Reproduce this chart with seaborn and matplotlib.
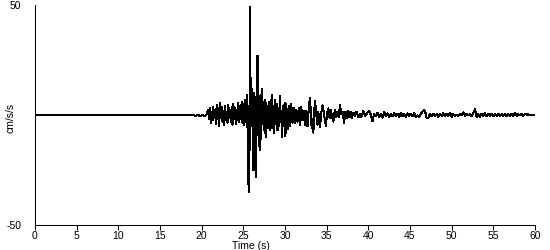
import matplotlib
matplotlib.use("Agg")
import matplotlib.pyplot as plt
import seaborn as sns
import pandas as pd

# Time (s) of the turning points of the trace
time_s = [
    0.0, 19.0, 19.3, 19.5, 19.9, 20.1, 20.4, 20.6,
    20.8, 20.9, 21.0, 21.1, 21.2, 21.3, 21.4, 21.5, 21.6, 21.7, 21.8, 21.9,
    22.0, 22.1, 22.2, 22.3, 22.4, 22.5, 22.6, 22.7, 22.8, 22.9,
    23.0, 23.1, 23.2, 23.3, 23.4, 23.5, 23.6, 23.7, 23.8, 23.9,
    24.0, 24.1, 24.2, 24.3, 24.4, 24.5, 24.6, 24.7, 24.8, 24.9,
    25.0, 25.1, 25.2, 25.3, 25.4, 25.5,
    25.6, 25.65, 25.72, 25.8, 25.86, 25.92, 25.98, 26.05, 26.12, 26.15,
    26.22, 26.3, 26.38, 26.45, 26.52, 26.6, 26.7, 26.78, 26.85, 26.95,
    27.05, 27.15, 27.25, 27.35, 27.45, 27.55, 27.65, 27.75, 27.85, 27.95,
    28.05, 28.15, 28.25, 28.3, 28.4, 28.5, 28.6, 28.7, 28.8, 28.9,
    29.0, 29.1, 29.2, 29.3, 29.4, 29.5, 29.55, 29.65, 29.75, 29.85,
    29.95, 30.05, 30.15, 30.3, 30.45, 30.6, 30.75, 30.9, 31.05, 31.2,
    31.35, 31.5, 31.65, 31.8, 31.95, 32.1, 32.25, 32.4, 32.55, 32.7,
    32.85, 33.0, 33.1, 33.2, 33.3, 33.4, 33.5, 33.6, 33.75, 33.9,
    34.0, 34.2, 34.35, 34.5, 34.7, 34.9, 35.05, 35.2, 35.35, 35.5,
    35.65, 35.8, 36.0, 36.15, 36.3, 36.45, 36.6, 36.75, 36.9, 37.1,
    37.25, 37.4, 37.55, 37.7, 37.85, 38.0, 38.2, 38.4, 38.6, 38.8,
    39.0, 39.15, 39.4, 39.6, 39.8, 40.1, 40.3, 40.5, 40.7, 40.9,
    41.1, 41.3, 41.5, 41.7, 41.9, 42.1, 42.3, 42.5, 42.7, 42.9,
    43.1, 43.3, 43.5, 43.7, 43.9, 44.1, 44.3, 44.5, 44.7, 44.9,
    45.1, 45.3, 45.5, 45.7, 45.9, 46.1, 46.3, 46.5, 46.7, 46.9,
    47.0, 47.2, 47.4, 47.6, 47.8, 48.0, 48.2, 48.4, 48.6, 48.8,
    49.0, 49.2, 49.4, 49.6, 49.8, 50.0, 50.2, 50.4, 50.6, 50.8,
    51.0, 51.2, 51.4, 51.6, 51.8, 52.0, 52.2, 52.4, 52.6, 52.8,
    53.0, 53.2, 53.4, 53.6, 53.8, 54.0, 54.2, 54.4, 54.6, 54.8,
    55.0, 55.2, 55.4, 55.6, 55.8, 56.0, 56.2, 56.4, 56.6, 56.8,
    57.0, 57.2, 57.4, 57.6, 57.8, 58.0, 58.2, 58.4, 58.6, 58.8,
    59.0, 59.2, 59.4, 59.6, 59.8, 60.0,
]

# Acceleration (cm/s/s) at those times
accel = [
    0.0, 0.0, -0.4, 0.0, -0.5, 0.0, -0.6, 0.3,
    2.5, -2.0, 3.0, -3.5, 1.5, -2.5, 3.5, -1.0, 2.0, -4.0, 4.5, -2.0,
    3.0, -5.0, 5.5, -1.5, 3.5, -3.0, 2.0, -4.5, 4.0, -2.5,
    1.5, -3.5, 4.5, -1.5, 2.5, -3.0, 3.5, -4.5, 5.0, -2.0,
    3.0, -4.0, 2.5, -2.5, 5.5, -3.0, 4.0, -2.0, 6.0, -3.5,
    5.0, -4.5, 7.0, -3.0, 9.0, -5.0,
    -31.5, 4.0, -35.0, 49.0, -2.0, 17.0, -5.0, 12.0, -8.0, 6.0,
    -25.0, 10.0, -4.0, 8.0, -28.0, 5.0, 27.0, -9.0, 6.0, -16.0,
    9.0, -11.0, 12.0, -4.0, 6.0, -8.0, 7.0, -10.0, 4.0, -5.0,
    6.0, -7.0, 5.0, -3.0, 9.0, -6.0, 4.0, -8.0, 7.0, -4.0,
    5.0, -7.0, 3.0, -5.0, 8.5, -3.0, 2.0, -10.0, 4.0, -5.0,
    5.5, -9.5, 5.0, -6.5, 4.0, -5.0, 5.0, -3.5, 3.0, -3.8,
    2.5, -3.0, 3.0, -4.5, 3.5, -2.5, 2.0, -4.5, 2.0, -5.0,
    3.0, 7.9, 1.0, -6.0, -2.0, -8.0, 1.0, 6.5, 0.5, -4.5,
    1.5, -5.7, 1.0, 4.4, 0.0, -5.0, 1.0, 3.0, -1.5, 2.5,
    -1.0, -3.0, 2.5, -1.0, 1.5, -1.0, 4.4, 0.5, 1.5, -3.5,
    1.5, -1.5, 2.0, -1.0, 1.5, -1.5, 1.0, -0.5, 1.5, -1.0,
    0.5, -1.0, 2.0, -0.5, 0.5, 2.0, 0.0, -2.7, 0.5, -0.5,
    1.0, -1.0, 0.5, -1.2, 1.2, -0.5, 0.8, -0.8, 0.5, -0.5,
    0.8, -0.6, 0.5, -0.8, 1.0, -0.5, 0.5, -1.0, 0.8, -0.5,
    0.6, -0.4, 0.8, -0.8, -0.2, -1.0, 0.5, 1.5, 2.3, 0.5,
    -1.5, -1.2, 0.5, -0.6, 0.6, -0.5, 0.4, -0.8, 0.6, -0.4,
    0.8, -0.6, 0.5, -0.5, 1.0, -0.8, 0.3, -0.4, 0.2, -0.3,
    0.4, -0.2, 1.2, -0.4, 0.6, -0.2, 0.4, -0.6, 0.8, 2.7,
    -1.0, 0.5, -0.8, 0.6, -0.5, 0.8, -0.6, 0.6, -0.4, 0.5,
    -0.6, 0.4, -0.3, 0.6, -0.5, 0.3, -0.4, 0.5, -0.6, 0.4,
    -0.3, 0.5, -0.5, 0.8, -0.4, 0.3, -0.2, 0.5, -0.3, 0.4,
    0.2, 0.3, 0.0, 0.2, 0.0, 0.0,
]

x_ticks = [0, 5, 10, 15, 20, 25, 30, 35, 40, 45, 50, 55, 60]
y_ticks = [-50, 50]

df = pd.DataFrame({"t": time_s, "a": accel})

sns.set_style("white")
plt.rcParams["font.family"] = ["Liberation Sans", "DejaVu Sans"]
plt.rcParams["text.color"] = "black"
plt.rcParams["axes.labelcolor"] = "black"
plt.rcParams["xtick.color"] = "black"
plt.rcParams["ytick.color"] = "black"

fig = plt.figure(figsize=(5.5, 2.5), dpi=100)
ax = fig.add_axes([35 / 550, 25 / 250, 500 / 550, 220 / 250])

sns.lineplot(data=df, x="t", y="a", ax=ax, color="black", linewidth=0.75,
             estimator=None, sort=False, antialiased=False)

ax.set_xlim(0, 60)
ax.set_ylim(-50, 50)
ax.set_xticks(x_ticks)
ax.set_xticklabels([str(v) for v in x_ticks])
ax.set_yticks(y_ticks)
ax.set_yticklabels([str(v) for v in y_ticks])
ax.set_yticks([-50], minor=True)

for s in ["top", "right"]:
    ax.spines[s].set_visible(False)
for s in ["left", "bottom"]:
    ax.spines[s].set_color("black")
    ax.spines[s].set_linewidth(0.75)

ax.tick_params(axis="x", which="major", direction="out", length=3.5, width=0.75,
               color="black", labelcolor="black", labelsize=7.5, pad=1, bottom=True)
ax.tick_params(axis="y", which="major", length=0, labelsize=7.5, pad=10,
               labelcolor="black", left=True)
ax.tick_params(axis="y", which="minor", direction="out", length=3.5, width=0.75,
               color="black", left=True)

ax.set_xlabel("Time (s)", fontsize=7.5, color="black")
ax.set_ylabel("cm/s/s", fontsize=7.5, color="black")
ax.xaxis.set_label_coords(216 / 500, -16 / 220)
ax.yaxis.set_label_coords(-19 / 500, 107 / 220)
ax.grid(False)

fig.savefig("out.png", dpi=100)
